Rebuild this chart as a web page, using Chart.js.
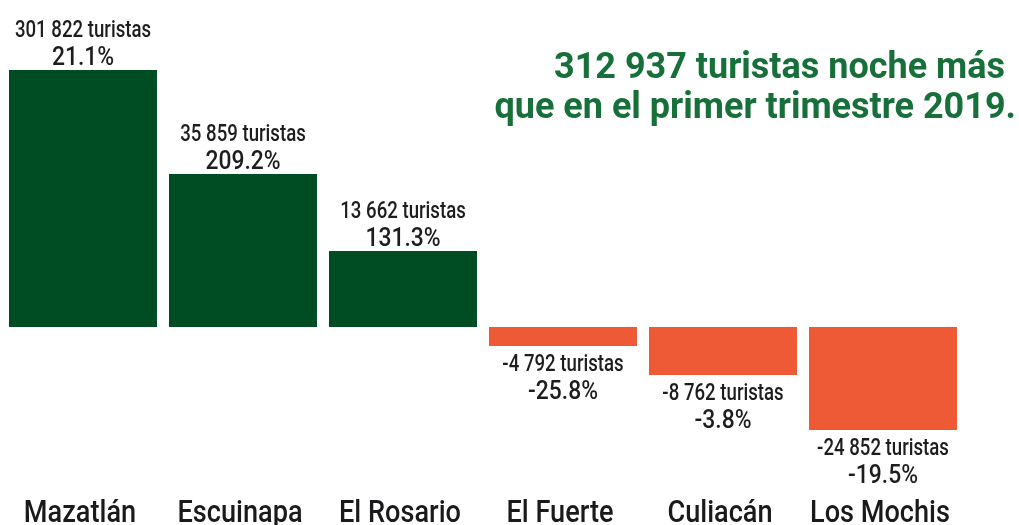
<!DOCTYPE html>
<html>
<head>
<meta charset="utf-8">
<script src="https://cdn.jsdelivr.net/npm/chart.js@4.4.1/dist/chart.umd.min.js"></script>
<style>
  html, body { margin: 0; padding: 0; background: #ffffff; }
  #wrap { width: 1019px; height: 525px; position: relative; }
</style>
</head>
<body>
<div id="wrap"><canvas id="grafico"></canvas></div>
<script>
// municipios y valores
const municipios = ['Mazatlán', 'Escuinapa', 'El Rosario', 'El Fuerte', 'Culiacán', 'Los Mochis'];
// largo visual de cada barra (la grafica original no es proporcional a las cifras)
const alturaBarra = [257, 153, 76, -19, -48, -103];
const turistas = ['301 822 turistas', '35 859 turistas', '13 662 turistas', '-4 792 turistas', '-8 762 turistas', '-24 852 turistas'];
const variacion = ['21.1%', '209.2%', '131.3%', '-25.8%', '-3.8%', '-19.5%'];
const titulo = ['312 937 turistas noche más', 'que en el primer trimestre 2019.'];

const verde = '#004d23';
const naranja = '#ee5a36';
const fuente = 'Roboto, "Liberation Sans", sans-serif';

// texto angosto (la fuente original es condensada)
function texto(ctx, str, x, y, font, sx, align) {
    ctx.save();
    ctx.font = font;
    ctx.textAlign = align;
    ctx.textBaseline = 'alphabetic';
    ctx.translate(x, y);
    ctx.scale(sx, 1);
    ctx.fillText(str, 0, 0);
    ctx.restore();
}

const etiquetas = {
    id: 'etiquetas',
    afterDatasetsDraw(chart) {
        const ctx = chart.ctx;
        const meta = chart.getDatasetMeta(0);
        const xScale = chart.scales.x;
        ctx.save();
        ctx.fillStyle = '#1d1d1f';
        meta.data.forEach((bar, i) => {
            const positivo = alturaBarra[i] >= 0;
            const borde = positivo ? Math.min(bar.y, bar.base) : Math.max(bar.y, bar.base);
            let y1, y2;
            if (positivo) {
                y1 = borde - 33;
                y2 = borde - 5;
            } else {
                y1 = borde + 25;
                y2 = borde + 53;
            }
            texto(ctx, turistas[i], bar.x, y1, '500 23px ' + fuente, 0.81, 'center');
            texto(ctx, variacion[i], bar.x, y2, '500 26px ' + fuente, 0.88, 'center');
        });

        // nombres de municipio bajo cada barra
        ctx.fillStyle = '#1a1a1c';
        municipios.forEach((m, i) => {
            texto(ctx, m, xScale.getPixelForValue(i) - 3, 522, '500 31px ' + fuente, 0.875, 'center');
        });

        // titulo en verde a la derecha
        ctx.fillStyle = '#17703a';
        texto(ctx, titulo[0], 1005, 78, 'bold 36px ' + fuente, 1.0, 'right');
        texto(ctx, titulo[1], 1016, 118, 'bold 36px ' + fuente, 1.0, 'right');
        ctx.restore();
    }
};

new Chart(document.getElementById('grafico'), {
    type: 'bar',
    data: {
        labels: municipios,
        datasets: [{
            data: alturaBarra,
            backgroundColor: alturaBarra.map(v => v >= 0 ? verde : naranja),
            borderWidth: 0,
            barPercentage: 0.925,
            categoryPercentage: 1
        }]
    },
    options: {
        responsive: true,
        maintainAspectRatio: false,
        animation: false,
        layout: {
            padding: { left: 3, right: 56, top: 0, bottom: 0 }
        },
        plugins: {
            legend: { display: false },
            tooltip: { enabled: false }
        },
        scales: {
            x: {
                display: false
            },
            y: {
                display: false,
                min: -198,
                max: 327
            }
        }
    },
    plugins: [etiquetas]
});
</script>
</body>
</html>
